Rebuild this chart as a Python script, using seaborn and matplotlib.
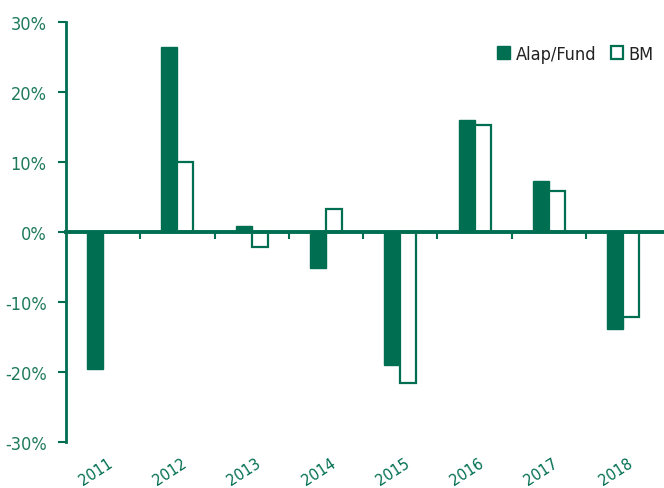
import matplotlib
matplotlib.use('Agg')
import matplotlib.pyplot as plt
from matplotlib.patches import Patch
from matplotlib.ticker import FuncFormatter
import numpy as np
import pandas as pd
import seaborn as sns

# ---------------- data ----------------
years = ['2011', '2012', '2013', '2014', '2015', '2016', '2017', '2018']
fund = [-19.5, 26.4, 0.9, -5.2, -19.0, 16.0, 7.3, -13.8]
bm = [np.nan, 10.0, -2.2, 3.35, -21.6, 15.3, 5.9, -12.2]
series = ['Alap/Fund', 'BM']

green = '#006e50'

df = pd.DataFrame({
    'Year': years * 2,
    'Return': fund + bm,
    'Series': [series[0]] * len(years) + [series[1]] * len(years),
})

sns.set_style('white')
plt.rcParams['font.family'] = ['DejaVu Sans']
plt.rcParams['font.stretch'] = 'condensed'

fig = plt.figure(figsize=(6.64, 4.89), dpi=100)
ax = fig.add_axes([66 / 664, 1 - 443 / 489, 1 - 66 / 664, 420 / 489])

sns.barplot(data=df, x='Year', y='Return', hue='Series', order=years,
            hue_order=series, palette=[green, green], width=0.43,
            saturation=1, ax=ax, legend=False)

# BM bars: hollow with green edge
for bar in ax.containers[1]:
    bar.set_facecolor('white')
    bar.set_edgecolor(green)
    bar.set_linewidth(1.6)
for bar in ax.containers[0]:
    bar.set_edgecolor(green)

ax.set_xlim(-0.5, len(years) - 0.45)
ax.set_ylim(-30, 30)
ax.set_yticks(range(-30, 31, 10))
ax.yaxis.set_major_formatter(FuncFormatter(lambda v, p: f'{int(v)}%'))
ax.tick_params(axis='y', colors=green, labelsize=13, length=6, width=1.5,
               direction='out', pad=8, left=True)
for lab in ax.get_yticklabels():
    lab.set_color('#1f7a5c')

# zero line as the x axis with boundary ticks
ax.spines['bottom'].set_position(('data', 0))
ax.spines['bottom'].set_color(green)
ax.spines['bottom'].set_linewidth(2.8)
ax.spines['left'].set_color(green)
ax.spines['left'].set_linewidth(2)
ax.spines['top'].set_visible(False)
ax.spines['right'].set_visible(False)
ax.set_xticks(np.arange(0.5, len(years) - 0.5, 1), minor=True)
ax.tick_params(axis='x', which='minor', length=5, width=1.5, color=green,
               direction='out', bottom=True)
ax.tick_params(axis='x', which='major', length=0, labelbottom=False)
ax.set_xlabel('')
ax.set_ylabel('')

# year labels at the bottom
sec = ax.secondary_xaxis(0)
sec.set_xticks(np.arange(len(years)) + 0.05)
sec.set_xticklabels(years, rotation=33, ha='right', rotation_mode='anchor',
                    color=green, fontsize=11.5)
sec.tick_params(length=0, pad=9)
sec.spines['bottom'].set_visible(False)

handles = [Patch(facecolor=green, edgecolor=green),
           Patch(facecolor='white', edgecolor=green, linewidth=1.6)]
ax.legend(handles, series, loc='upper right', bbox_to_anchor=(1.01, 0.985),
          ncol=2, frameon=False, fontsize=13, handlelength=0.7,
          handleheight=0.7, handletextpad=0.3, columnspacing=0.8,
          labelcolor='#222222')

fig.savefig('out.png', dpi=100)
